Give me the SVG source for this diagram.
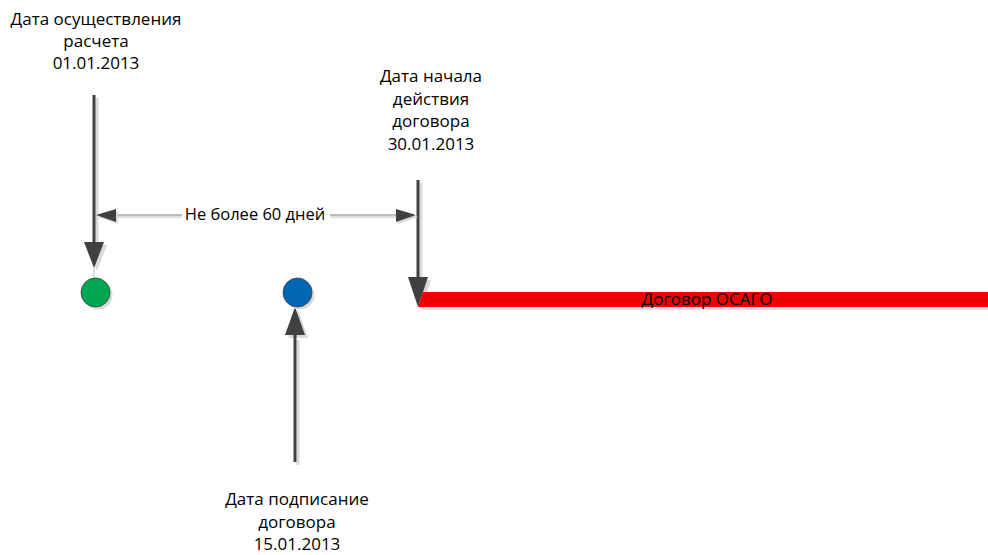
<svg xmlns="http://www.w3.org/2000/svg" width="988" height="555" viewBox="0 0 988 555">
<style>
.t{font-family:"Open Sans","Liberation Sans",sans-serif;font-size:17px;fill:#000;text-anchor:middle}
.ln{stroke:#404040;stroke-width:3;fill:none}
.sh{stroke:#d9d9d9;stroke-width:3;fill:none}
.ah{fill:#404040}
.ahs{fill:#d9d9d9}
</style>
<rect width="988" height="555" fill="#fff"/>
<g id="connectors">
  <!-- left arrow -->
  <line class="sh" x1="97" y1="98" x2="97" y2="248"/>
  <polygon class="ahs" points="87,245 107,245 97,271"/>
  <line class="ln" x1="94" y1="95" x2="94" y2="245"/>
  <polygon class="ah" points="84,242 104,242 94,268"/>
  <line x1="94" y1="268" x2="94" y2="279" stroke="#bbb" stroke-width="1"/>
  <!-- right arrow -->
  <line class="sh" x1="421" y1="183" x2="421" y2="283"/>
  <polygon class="ahs" points="411,280 431,280 421,310"/>
  <line class="ln" x1="418" y1="180" x2="418" y2="280"/>
  <polygon class="ah" points="408,277 428,277 418,307"/>
  <!-- blue arrow -->
  <line class="sh" x1="298" y1="340" x2="298" y2="465"/>
  <polygon class="ahs" points="288,338 308,338 298,310"/>
  <line class="ln" x1="295" y1="335" x2="295" y2="462"/>
  <polygon class="ah" points="285,335 305,335 295,307"/>
  <!-- dimension line -->
  <line x1="110" y1="217" x2="404" y2="217" stroke="#e0e0e0" stroke-width="2"/>
  <line x1="110" y1="215" x2="400" y2="215" stroke="#7f7f7f" stroke-width="1.2"/>
  <polygon class="ahs" points="98,217 118,211 118,224"/>
  <polygon class="ahs" points="418,217 398,211 398,224"/>
  <polygon class="ah" points="96,215 116,209 116,222"/>
  <polygon class="ah" points="416,215 396,209 396,222"/>
  <rect x="182" y="205" width="148" height="20" fill="#fff"/>
  <text class="t" x="255" y="220" style="font-size:16.5px">Не более 60 дней</text>
</g>
<g id="node-green">
  <circle cx="98" cy="295" r="14.5" fill="#d9d9d9"/>
  <circle cx="95.5" cy="292.5" r="14.5" fill="#00a651" stroke="#404040" stroke-width="0.8"/>
</g>
<g id="node-blue">
  <circle cx="300" cy="295" r="14.5" fill="#d9d9d9"/>
  <circle cx="297.5" cy="292.5" r="14.5" fill="#0066b3" stroke="#404040" stroke-width="0.8"/>
</g>
<g id="node-bar">
  <rect x="422" y="295" width="566" height="15" fill="#e0e0e0"/>
  <polygon points="423,292 988,292 988,307 418,307" fill="#f00000"/>
  <text class="t" x="707" y="305">Договор ОСАГО</text>
</g>
<g id="label-calc">
  <text class="t" x="96" y="25">Дата осуществления</text>
  <text class="t" x="96" y="47">расчета</text>
  <text class="t" x="96" y="69">01.01.2013</text>
</g>
<g id="label-start">
  <text class="t" x="431" y="82">Дата начала</text>
  <text class="t" x="431" y="105">действия</text>
  <text class="t" x="431" y="127">договора</text>
  <text class="t" x="431" y="150">30.01.2013</text>
</g>
<g id="label-sign">
  <text class="t" x="297" y="505">Дата подписание</text>
  <text class="t" x="297" y="528">договора</text>
  <text class="t" x="297" y="550">15.01.2013</text>
</g>
</svg>
